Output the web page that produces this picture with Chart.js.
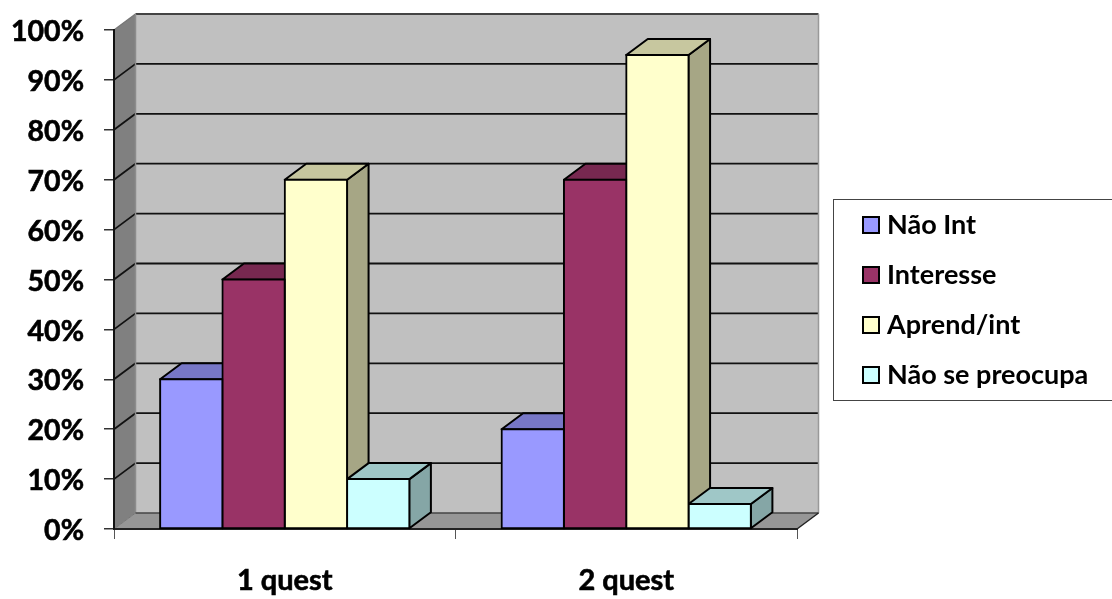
<!DOCTYPE html>
<html>
<head>
    <meta charset="utf-8">
    <title>Questionários</title>
    <style>
        html, body { margin: 0; padding: 0; background: #fff; overflow: hidden; }
        canvas { display: block; }
    </style>
</head>
<body>
    <canvas id="myChart" width="1112" height="599"></canvas>

    <script src="https://cdn.jsdelivr.net/npm/chart.js"></script>
    <script>
        const categories = ['1 quest', '2 quest'];
        const naoInt = [30, 20];
        const interesse = [50, 70];
        const aprendInt = [70, 95];
        const naoSePreocupa = [10, 5];

        // how far the back wall sits behind the front plane
        const depthX = 21.5;
        const depthY = 16;
        const fontName = 'Lato, "Noto Sans", sans-serif';

        function shade(rgb, factor) {
            return `rgb(${rgb.map(c => Math.round(c * factor)).join(',')})`;
        }

        function polygon(ctx, points, fill) {
            ctx.beginPath();
            points.forEach((p, i) => i ? ctx.lineTo(p[0], p[1]) : ctx.moveTo(p[0], p[1]));
            ctx.closePath();
            if (fill) {
                ctx.fillStyle = fill;
                ctx.fill();
            }
        }

        function line(ctx, x1, y1, x2, y2, color, width) {
            ctx.beginPath();
            ctx.moveTo(x1, y1);
            ctx.lineTo(x2, y2);
            ctx.strokeStyle = color;
            ctx.lineWidth = width;
            ctx.stroke();
        }

        // back wall, left wall, floor and the gridlines wrapped around them
        const wallsPlugin = {
            id: 'walls',
            beforeDraw(chart) {
                const { ctx, chartArea: area, scales } = chart;
                const { left, right, top, bottom } = area;
                const dx = depthX;
                const dy = depthY;
                ctx.save();
                polygon(ctx, [[left + dx, top - dy], [right + dx, top - dy], [right + dx, bottom - dy], [left + dx, bottom - dy]], '#c0c0c0');
                polygon(ctx, [[left, top], [left + dx, top - dy], [left + dx, bottom - dy], [left, bottom]], '#808080');
                polygon(ctx, [[left, bottom], [left + dx, bottom - dy], [right + dx, bottom - dy], [right, bottom]], '#969696');

                scales.y.ticks.forEach(tick => {
                    const y = scales.y.getPixelForValue(tick.value);
                    if (tick.value > 0 && tick.value < 100) {
                        line(ctx, left, y, left + dx, y - dy, '#111', 1.8);
                        line(ctx, left + dx, y - dy, right + dx, y - dy, '#111', 1.8);
                    }
                });

                line(ctx, left, top, left + dx, top - dy, '#777', 1.5);
                line(ctx, left + dx, top - dy, right + dx, top - dy, '#444', 1.8);
                line(ctx, right + dx, top - dy, right + dx, bottom - dy, '#999', 1.5);
                line(ctx, left + dx, top - dy, left + dx, bottom - dy, '#8c8c8c', 1.5);
                line(ctx, left, bottom, left + dx, bottom - dy, '#777', 1);
                line(ctx, left + dx, bottom - dy, right + dx, bottom - dy, '#444', 1.5);
                line(ctx, right, bottom, right + dx, bottom - dy, '#222', 1.5);
                ctx.restore();
            },
            // tops and sides go in behind the front faces, left to right
            beforeDatasetsDraw(chart) {
                const { ctx } = chart;
                const dx = depthX;
                const dy = depthY;
                ctx.save();
                ctx.strokeStyle = '#000';
                ctx.lineWidth = 2;
                ctx.lineJoin = 'round';
                categories.forEach((name, index) => {
                    chart.data.datasets.forEach((dataset, datasetIndex) => {
                        const bar = chart.getDatasetMeta(datasetIndex).data[index];
                        const half = bar.width / 2;
                        const l = bar.x - half;
                        const r = bar.x + half;
                        polygon(ctx, [[r, bar.y], [r + dx, bar.y - dy], [r + dx, bar.base - dy], [r, bar.base]], shade(dataset.rgb, 0.65));
                        ctx.stroke();
                        polygon(ctx, [[l, bar.y], [l + dx, bar.y - dy], [r + dx, bar.y - dy], [r, bar.y]], shade(dataset.rgb, 0.78));
                        ctx.stroke();
                    });
                });
                ctx.restore();
            },
            afterLayout(chart) {
                // legend sits in its own frame, away from the plot
                chart.legend.left = 845.5;
                chart.legend.right = 1112;
                chart.legend.top = 188.5;
                chart.legend.width = 266.5;
            },
            afterDraw(chart) {
                const { ctx } = chart;
                ctx.save();
                ctx.strokeStyle = '#444';
                ctx.lineWidth = 1;
                ctx.strokeRect(833.5, 199.5, 290, 201);
                ctx.restore();
            }
        };

        const colors = [[153, 153, 255], [153, 51, 102], [255, 255, 204], [204, 255, 255]];

        function makeDataset(label, data, rgb) {
            return {
                label,
                data,
                rgb,
                backgroundColor: `rgb(${rgb.join(',')})`,
                borderColor: '#000',
                borderWidth: 2,
                borderSkipped: false,
                inflateAmount: 1,
                barPercentage: 1,
                categoryPercentage: 0.73,
                clip: false
            };
        }

        new Chart(document.getElementById('myChart'), {
            type: 'bar',
            data: {
                labels: categories,
                datasets: [
                    makeDataset('Não Int', naoInt, colors[0]),
                    makeDataset('Interesse', interesse, colors[1]),
                    makeDataset('Aprend/int', aprendInt, colors[2]),
                    makeDataset('Não se preocupa', naoSePreocupa, colors[3])
                ]
            },
            options: {
                responsive: false,
                animation: false,
                devicePixelRatio: 1,
                layout: { padding: { top: 30, right: 115, bottom: 0, left: 0 } },
                plugins: {
                    tooltip: { enabled: false },
                    legend: {
                        position: 'right',
                        align: 'start',
                        maxWidth: 200,
                        labels: {
                            color: '#000',
                            font: { family: fontName, size: 27, weight: 'bold' },
                            usePointStyle: true,
                            pointStyle: 'rect',
                            boxWidth: 5,
                            boxHeight: 16,
                            padding: 23
                        }
                    }
                },
                scales: {
                    x: {
                        afterFit(scale) {
                            scale.height = 70;
                            scale.paddingLeft = 0;
                            scale.paddingRight = 0;
                        },
                        border: { color: '#222', width: 2 },
                        grid: { drawOnChartArea: false, color: '#555', tickLength: 10, lineWidth: 1 },
                        ticks: {
                            color: '#000',
                            textStrokeColor: '#000',
                            textStrokeWidth: 0.6,
                            padding: 24,
                            maxRotation: 0,
                            font: { family: fontName, size: 29, weight: 'bold' }
                        }
                    },
                    y: {
                        min: 0,
                        max: 100,
                        afterFit(scale) {
                            scale.width = 114;
                            scale.paddingTop = 0;
                            scale.paddingBottom = 0;
                        },
                        border: { color: '#111', width: 2 },
                        grid: { drawOnChartArea: false, color: '#333', tickLength: 10, lineWidth: 1.5 },
                        ticks: {
                            stepSize: 10,
                            color: '#000',
                            textStrokeColor: '#000',
                            textStrokeWidth: 0.6,
                            padding: 20,
                            labelOffset: 2,
                            font: { family: fontName, size: 28.5, weight: 'bold' },
                            callback: value => value + '%'
                        }
                    }
                }
            },
            plugins: [wallsPlugin]
        });
    </script>
</body>
</html>
